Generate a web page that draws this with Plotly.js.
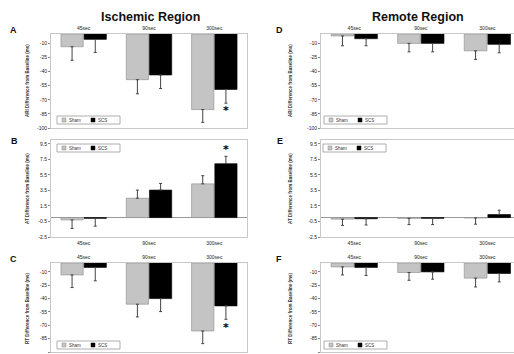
<!DOCTYPE html>
<html>
<head>
<meta charset="utf-8">
<script src="https://cdn.plot.ly/plotly-3.0.1.min.js"></script>
<style>html,body{margin:0;padding:0;background:#fff;}#chart{width:514px;height:354px;}</style>
</head>
<body>
<div id="chart"></div>
<script>
// ---------- data ----------
var categories = ['45sec', '90sec', '300sec'];
var seriesNames = ['Sham', 'SCS'];

// Panel A: ARI, Ischemic region
var shamA = [-13.6, -48.6, -80.4];
var shamAerr = [14.4, 15.0, 13.6];
var scsA = [-5.7, -43.6, -59.0];
var scsAerr = [13.9, 14.4, 14.6];

// Panel B: AT, Ischemic region
var shamB = [-0.3, 2.5, 4.35];
var shamBerr = [1.1, 1.05, 1.05];
var scsB = [-0.1, 3.55, 6.95];
var scsBerr = [1.0, 0.85, 0.95];

// Panel C: RT, Ischemic region
var shamC = [-13.4, -46.3, -76.4];
var shamCerr = [14.2, 14.3, 14.2];
var scsC = [-5.0, -40.0, -48.2];
var scsCerr = [15.0, 14.6, 15.0];

// Panel D: ARI, Remote region
var shamD = [-2.1, -10.0, -17.9];
var shamDerr = [10.4, 9.0, 9.1];
var scsD = [-5.0, -10.0, -11.0];
var scsDerr = [7.5, 9.0, 9.0];

// Panel E: AT, Remote region
var shamE = [-0.2, -0.1, -0.05];
var shamEerr = [0.8, 0.8, 0.8];
var scsE = [-0.15, -0.1, 0.4];
var scsEerr = [0.8, 0.8, 0.55];

// Panel F: RT, Remote region
var shamF = [-4.4, -10.7, -17.0];
var shamFerr = [9.0, 8.7, 9.9];
var scsF = [-5.0, -10.0, -11.8];
var scsFerr = [9.0, 8.2, 9.4];

// significance markers (SCS vs Sham)
var sigCategoryA = '300sec', sigValueA = -79;
var sigCategoryB = '300sec', sigValueB = 9.0;
var sigCategoryC = '300sec', sigValueC = -70.7;

var msTicks = [-10, -25, -40, -55, -70, -85, -100];
var atTicks = [9.5, 7.5, 5.5, 3.5, 1.5, -0.5, -2.5];

var yTitleARI = 'ARI Difference from Baseline (ms)';
var yTitleAT = 'AT Difference from Baseline (ms)';
var yTitleRT = 'RT Difference from Baseline (ms)';

// ---------- layout helpers ----------
var W = 514, H = 354;
function fx(px) { return px / W; }
function fy(py) { return 1 - py / H; }

var shamColor = '#c4c4c4', scsColor = '#000000';
var font = 'Liberation Sans, Arial, sans-serif';

function errObj(vals, errs) {
  return {
    type: 'data', symmetric: false,
    array: vals.map(function (v, i) { return v >= 0 ? errs[i] : 0; }),
    arrayminus: vals.map(function (v, i) { return v < 0 ? errs[i] : 0; }),
    color: '#444', thickness: 1, width: 1.5
  };
}

var traces = [];
function addPanel(idx, sham, shamErr, scs, scsErr) {
  var xa = idx === 1 ? 'x' : 'x' + idx;
  var ya = idx === 1 ? 'y' : 'y' + idx;
  traces.push({
    type: 'bar', name: seriesNames[0], x: categories, y: sham, xaxis: xa, yaxis: ya,
    marker: { color: shamColor, line: { color: '#8a8a8a', width: 0.6 } },
    error_y: errObj(sham, shamErr), showlegend: false, hoverinfo: 'none'
  });
  traces.push({
    type: 'bar', name: seriesNames[1], x: categories, y: scs, xaxis: xa, yaxis: ya,
    marker: { color: scsColor, line: { color: '#000', width: 0.6 } },
    error_y: errObj(scs, scsErr), showlegend: false, hoverinfo: 'none'
  });
}
addPanel(1, shamA, shamAerr, scsA, scsAerr);
addPanel(2, shamB, shamBerr, scsB, scsBerr);
addPanel(3, shamC, shamCerr, scsC, scsCerr);
addPanel(4, shamD, shamDerr, scsD, scsDerr);
addPanel(5, shamE, shamEerr, scsE, scsEerr);
addPanel(6, shamF, shamFerr, scsF, scsFerr);

var leftX = [fx(51), fx(247)];
var rightX = [fx(321), 1];
var rowA = [fy(128), fy(34)];
var rowB = [fy(237), fy(140)];
var rowC = [fy(352), fy(263)];

function xAxis(domain, anchor, side, range) {
  return {
    domain: domain, anchor: anchor, side: side, type: 'category',
    categoryorder: 'array', categoryarray: categories,
    range: range, showgrid: false, zeroline: false,
    showline: true, mirror: true, linecolor: '#c8c8c8', linewidth: 1,
    ticks: '', ticklabelstandoff: 1,
    tickfont: { family: font, size: 5, color: '#222' }, fixedrange: true
  };
}
function yAxis(domain, anchor, range, tickvals, zl) {
  return {
    domain: domain, anchor: anchor, range: range, tickmode: 'array',
    tickvals: tickvals, ticktext: tickvals.map(function (v) { return String(v); }),
    showgrid: false, zeroline: zl, zerolinecolor: '#9a9a9a', zerolinewidth: 1,
    showline: true, mirror: true, linecolor: '#c8c8c8', linewidth: 1,
    ticks: 'outside', ticklen: 2, tickcolor: '#888',
    tickfont: { family: font, size: 5, color: '#222' }, fixedrange: true
  };
}

var layout = {
  width: W, height: H,
  margin: { l: 0, r: 0, t: 0, b: 0 },
  paper_bgcolor: '#fff', plot_bgcolor: '#fff',
  barmode: 'group', bargap: 0.29, bargroupgap: 0.04,
  showlegend: false,
  font: { family: font, color: '#222' },
  xaxis: xAxis(leftX, 'y', 'top', [-0.5, 2.5]),
  yaxis: yAxis(rowA, 'x', [-100, 0], msTicks, false),
  xaxis2: xAxis(leftX, 'y2', 'bottom', [-0.5, 2.5]),
  yaxis2: yAxis(rowB, 'x2', [-2.5, 10], atTicks, true),
  xaxis3: xAxis(leftX, 'y3', 'top', [-0.5, 2.5]),
  yaxis3: yAxis(rowC, 'x3', [-100, 0], msTicks, false),
  xaxis4: xAxis(rightX, 'y4', 'top', [-0.5, 2.4]),
  yaxis4: yAxis(rowA, 'x4', [-100, 0], msTicks, false),
  xaxis5: xAxis(rightX, 'y5', 'bottom', [-0.5, 2.4]),
  yaxis5: yAxis(rowB, 'x5', [-2.5, 10], atTicks, true),
  xaxis6: xAxis(rightX, 'y6', 'top', [-0.5, 2.4]),
  yaxis6: yAxis(rowC, 'x6', [-100, 0], msTicks, false),
  annotations: [], shapes: []
};

var ann = layout.annotations, shp = layout.shapes;
function textAt(px, py, text, size, bold, extra) {
  var a = {
    xref: 'paper', yref: 'paper', x: fx(px), y: fy(py), text: bold ? '<b>' + text + '</b>' : text,
    showarrow: false, xanchor: 'center', yanchor: 'middle',
    font: { family: font, size: size, color: '#111' }
  };
  for (var k in extra) a[k] = extra[k];
  ann.push(a);
}
// column titles
textAt(150, 17, 'Ischemic Region', 12.5, true);
textAt(418, 17, 'Remote Region', 12.5, true);
// panel letters
textAt(13, 30, 'A', 9, true);
textAt(14, 141, 'B', 9, true);
textAt(13, 259, 'C', 9, true);
textAt(279, 30, 'D', 9, true);
textAt(280, 141, 'E', 9, true);
textAt(279, 259, 'F', 9, true);
// y-axis titles
var yt = { textangle: -90, font: { family: font, size: 4.5, color: '#333' } };
textAt(27, 81, '<b>' + yTitleARI + '</b>', 4.5, false, yt);
textAt(27, 189, '<b>' + yTitleAT + '</b>', 4.5, false, yt);
textAt(27, 308, '<b>' + yTitleRT + '</b>', 4.5, false, yt);
textAt(290, 81, '<b>' + yTitleARI + '</b>', 4.5, false, yt);
textAt(290, 189, '<b>' + yTitleAT + '</b>', 4.5, false, yt);
textAt(290, 308, '<b>' + yTitleRT + '</b>', 4.5, false, yt);

// significance asterisks, placed on the SCS bar of the group
function star(xa, ya, cat, val) {
  ann.push({ xref: xa, yref: ya, x: cat, y: val, xshift: 11.5, yshift: -2, text: '<b>*</b>', showarrow: false,
    font: { family: 'DejaVu Sans, sans-serif', size: 11, color: '#000' }, yanchor: 'middle' });
}
star('x', 'y', sigCategoryA, sigValueA);
star('x2', 'y2', sigCategoryB, sigValueB);
star('x3', 'y3', sigCategoryC, sigValueC);

// small boxed legends
function legendBox(px, py) {
  var w = 63, h = 8;
  shp.push({ type: 'rect', xref: 'paper', yref: 'paper', x0: fx(px), x1: fx(px + w), y0: fy(py + h), y1: fy(py),
    line: { color: '#999', width: 0.8 }, fillcolor: '#fff' });
  shp.push({ type: 'rect', xref: 'paper', yref: 'paper', x0: fx(px + 5), x1: fx(px + 9), y0: fy(py + 6), y1: fy(py + 2),
    line: { color: '#888', width: 0.5 }, fillcolor: shamColor });
  shp.push({ type: 'rect', xref: 'paper', yref: 'paper', x0: fx(px + 34), x1: fx(px + 38), y0: fy(py + 6), y1: fy(py + 2),
    line: { color: '#000', width: 0.5 }, fillcolor: scsColor });
  textAt(px + 10, py + 4.2, seriesNames[0], 4.5, false, { xanchor: 'left', font: { family: font, size: 4.5, color: '#333' } });
  textAt(px + 39, py + 4.2, seriesNames[1], 4.5, false, { xanchor: 'left', font: { family: font, size: 4.5, color: '#333' } });
}
legendBox(57, 116);
legendBox(57, 144);
legendBox(57, 341);
legendBox(324, 116);
legendBox(323, 144);
legendBox(324, 341);

Plotly.newPlot('chart', traces, layout, { staticPlot: true, displayModeBar: false });
</script>
</body>
</html>
